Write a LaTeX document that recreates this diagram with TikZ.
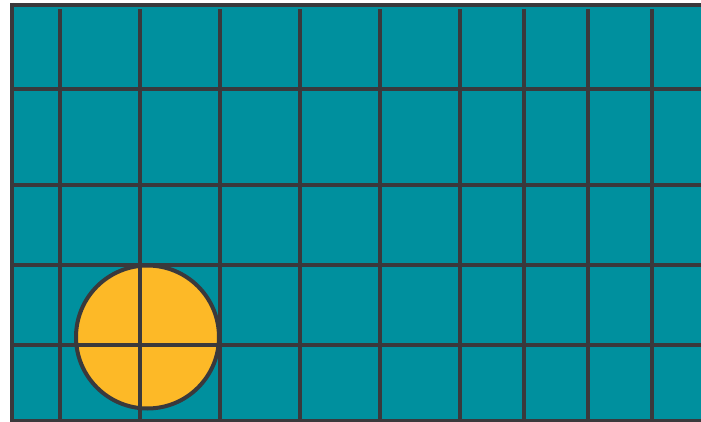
\documentclass[tikz,border=0pt]{standalone}
\definecolor{teal}{RGB}{0,144,158}
\definecolor{sun}{RGB}{253,185,39}
\definecolor{ink}{RGB}{58,57,60}
\tikzset{
  gridline/.style={draw=ink, line width=4pt},
  disc/.style={fill=sun, draw=ink, line width=4pt}
}
\begin{document}
\begin{tikzpicture}[x=1pt,y=-1pt]
\useasboundingbox (0,0) rectangle (701,422);
\fill[teal] (10,3) rectangle (701,422);
\path[disc] (147.5,337) circle[radius=71.5];
\foreach \x in {60,140,220,300,380,460,524,588,652}
  \draw[gridline] (\x,9) -- (\x,424);
\foreach \y in {89,185,265,345}
  \draw[gridline] (10,\y) -- (703,\y);
\draw[gridline] (10,5) -- (703,5);
\draw[gridline] (10,421) -- (703,421);
\draw[gridline] (12,3) -- (12,424);
\end{tikzpicture}
\end{document}
